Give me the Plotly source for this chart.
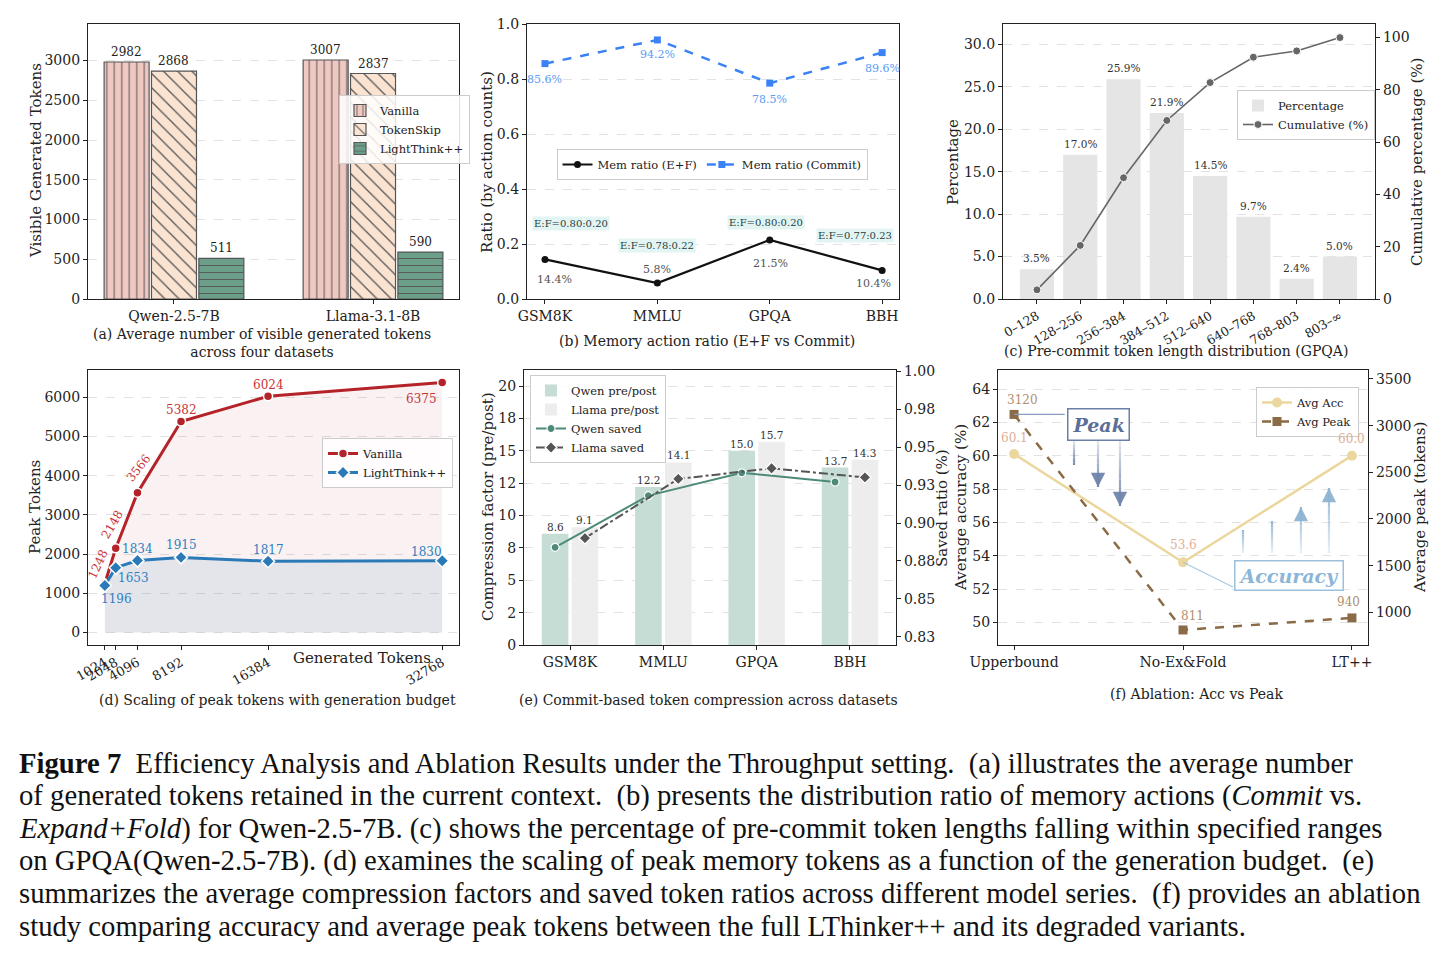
import numpy as np
import plotly.graph_objects as go

W, H = 1450, 960
SERIF = "DejaVu Serif"
CAPF = "Liberation Serif"

# ---------------- data ----------------
a_models = ["Qwen-2.5-7B", "Llama-3.1-8B"]
a_vanilla = [2982, 3007]
a_tokenskip = [2868, 2837]
a_lightthink = [511, 590]

b_datasets = ["GSM8K", "MMLU", "GPQA", "BBH"]
b_ef = [0.144, 0.058, 0.215, 0.104]
b_commit = [0.856, 0.942, 0.785, 0.896]
b_ef_split = ["E:F=0.80:0.20", "E:F=0.78:0.22", "E:F=0.80:0.20", "E:F=0.77:0.23"]

c_bins = ["0–128", "128–256", "256–384", "384–512", "512–640", "640–768", "768–803", "803–∞"]
c_pct = [3.5, 17.0, 25.9, 21.9, 14.5, 9.7, 2.4, 5.0]
c_cum = [3.5, 20.5, 46.4, 68.3, 82.8, 92.5, 94.9, 100.0]

d_budget = [1024, 2048, 4096, 8192, 16384, 32768]
d_vanilla = [1248, 2148, 3566, 5382, 6024, 6375]
d_lt = [1196, 1653, 1834, 1915, 1817, 1830]

e_datasets = ["GSM8K", "MMLU", "GPQA", "BBH"]
e_qwen_cf = [8.6, 12.2, 15.0, 13.7]
e_llama_cf = [9.1, 14.1, 15.7, 14.3]
e_qwen_saved = [0.884, 0.918, 0.933, 0.927]
e_llama_saved = [0.890, 0.929, 0.936, 0.930]
e_left_ticks = [0, 2.5, 5, 7.5, 10, 12.5, 15, 17.5, 20]
e_left_ticktext = ["0", "2", "5", "8", "10", "12", "15", "18", "20"]
e_right_ticks = [0.825, 0.85, 0.875, 0.9, 0.925, 0.95, 0.975, 1.0]
e_right_ticktext = ["0.83", "0.85", "0.88", "0.90", "0.93", "0.95", "0.98", "1.00"]

f_variants = ["Upperbound", "No-Ex&Fold", "LT++"]
f_acc = [60.1, 53.6, 60.0]
f_peak = [3120, 811, 940]

caption_lines = [
    "<b>Figure 7</b>  Efficiency Analysis and Ablation Results under the Throughput setting.  (a) illustrates the average number",
    "of generated tokens retained in the current context.  (b) presents the distribution ratio of memory actions (<i>Commit</i> vs.",
    "<i>Expand+Fold</i>) for Qwen-2.5-7B. (c) shows the percentage of pre-commit token lengths falling within specified ranges",
    "on GPQA(Qwen-2.5-7B). (d) examines the scaling of peak memory tokens as a function of the generation budget.  (e)",
    "summarizes the average compression factors and saved token ratios across different model series.  (f) provides an ablation",
    "study comparing accuracy and average peak tokens between the full LThinker++ and its degraded variants.",
]

# ---------------- helpers ----------------
def px(p):
    return p / W


def py(p):
    return 1 - p / H


ann = []
shapes = []


def label(text, x, y, xref, yref, dx=0, dy=0, size=11, color="#222", angle=0, family=SERIF, **kw):
    d = dict(text=text, x=x, y=y, xref=xref, yref=yref, xshift=dx, yshift=dy,
             showarrow=False, textangle=angle, xanchor="center", yanchor="middle",
             font=dict(family=family, size=size, color=color))
    d.update(kw)
    ann.append(d)


def paper_text(text, x, y, size=14, angle=0, color="#222", family=SERIF, **kw):
    d = dict(text=text, x=px(x), y=py(y), xref="paper", yref="paper", showarrow=False,
             textangle=angle, xanchor="center", yanchor="middle",
             font=dict(family=family, size=size, color=color))
    d.update(kw)
    ann.append(d)


GRID = dict(showgrid=True, gridcolor="#e2e2e2", griddash="dash", gridwidth=0.8)


def axstyle(**kw):
    d = dict(showline=True, linecolor="#222", linewidth=1.2, mirror=True, ticks="outside",
             ticklen=4, tickwidth=1, tickcolor="#222",
             tickfont=dict(family=SERIF, size=14, color="#222"),
             showgrid=False, zeroline=False)
    d.update(kw)
    return d


fig = go.Figure()

# ================= (a) =================
xa = np.arange(len(a_models))
bw = 0.238
series_a = [
    ("Vanilla", a_vanilla, "#efc8c2", "|", 7.5),
    ("TokenSkip", a_tokenskip, "#fbe3d1", "\\", 10),
    ("LightThink++", a_lightthink, "#6c9f8a", "-", 7),
]
for k, (name, vals, col, shp, sz) in enumerate(series_a):
    xs = xa + (k - 1) * bw
    fig.add_trace(go.Bar(
        x=xs, y=vals, width=bw * 0.95, name=name, xaxis="x", yaxis="y", legend="legend",
        marker=dict(color=col, line=dict(color="#555", width=1.2),
                    pattern=dict(shape=shp, fgcolor="#555", bgcolor=col, size=sz,
                                 solidity=0.13, fillmode="replace"))))
    for xv, v in zip(xs, vals):
        label(str(v), xv, v, "x", "y", dy=10, size=12)

# ================= (b) =================
xb = np.arange(len(b_datasets))
fig.add_trace(go.Scatter(x=xb, y=b_ef, mode="lines+markers", name="Mem ratio (E+F)",
                         line=dict(color="#111", width=2.2), marker=dict(symbol="circle", size=7, color="#111"),
                         xaxis="x2", yaxis="y2", legend="legend2"))
fig.add_trace(go.Scatter(x=xb, y=b_commit, mode="lines+markers", name="Mem ratio (Commit)",
                         line=dict(color="#3b82f6", width=2.5, dash="dash"),
                         marker=dict(symbol="square", size=7, color="#3b82f6"),
                         xaxis="x2", yaxis="y2", legend="legend2"))
ef_off = [(10, -20), (0, 14), (1, -24), (-9, -13)]
cm_off = [(0, -16), (0, -15), (0, -16), (0, -16)]
split_off = [(26, 36), (0, 38), (-4, 17), (-27, 35)]
for i in range(len(xb)):
    label(f"{b_ef[i]*100:.1f}%", xb[i], b_ef[i], "x2", "y2", dx=ef_off[i][0], dy=ef_off[i][1],
          size=11, color="#555")
    label(f"{b_commit[i]*100:.1f}%", xb[i], b_commit[i], "x2", "y2", dx=cm_off[i][0], dy=cm_off[i][1],
          size=11, color="#5a9cf5")
    label(b_ef_split[i], xb[i], b_ef[i], "x2", "y2", dx=split_off[i][0], dy=split_off[i][1],
          size=10, color="#1e3d3d", bgcolor="#e3f5f3", borderpad=1)

# ================= (c) =================
xc = np.arange(len(c_bins))
fig.add_trace(go.Bar(x=xc, y=c_pct, width=0.79, name="Percentage", marker=dict(color="#e5e5e5", line=dict(width=0)),
                     xaxis="x3", yaxis="y3", legend="legend3"))
fig.add_trace(go.Scatter(x=xc, y=c_cum, mode="lines+markers", name="Cumulative (%)",
                         line=dict(color="#666", width=1.6),
                         marker=dict(symbol="circle", size=8, color="#666", line=dict(color="white", width=1)),
                         xaxis="x3", yaxis="y4", legend="legend3"))
for xv, v in zip(xc, c_pct):
    label(f"{v:.1f}%", xv, v, "x3", "y3", dy=11, size=10.5, color="#333")

# ================= (d) =================
fig.add_trace(go.Scatter(x=d_budget, y=d_vanilla, mode="none", fill="tozeroy",
                         fillcolor="rgba(178,34,34,0.06)", showlegend=False, hoverinfo="skip",
                         xaxis="x4", yaxis="y5"))
fig.add_trace(go.Scatter(x=d_budget, y=d_lt, mode="none", fill="tozeroy",
                         fillcolor="rgba(31,119,180,0.10)", showlegend=False, hoverinfo="skip",
                         xaxis="x4", yaxis="y5"))
fig.add_trace(go.Scatter(x=d_budget, y=d_vanilla, mode="lines+markers", name="Vanilla",
                         line=dict(color="#b5232a", width=3),
                         marker=dict(symbol="circle", size=9, color="#b5232a", line=dict(color="white", width=1.5)),
                         xaxis="x4", yaxis="y5", legend="legend4"))
fig.add_trace(go.Scatter(x=d_budget, y=d_lt, mode="lines+markers", name="LightThink++",
                         line=dict(color="#2a7ab8", width=3),
                         marker=dict(symbol="diamond", size=10, color="#2a7ab8", line=dict(color="white", width=1.5)),
                         xaxis="x4", yaxis="y5", legend="legend4"))
van_off = [(-7, 20, -65), (-3, 24, -60), (1, 25, -52), (0, 11, 0), (0, 11, 0), (-21, -16, 0)]
lt_off = [(12, -13), (18, -10), (0, 12), (0, 12), (0, 11), (-16, 9)]
for i in range(len(d_budget)):
    label(str(d_vanilla[i]), d_budget[i], d_vanilla[i], "x4", "y5", dx=van_off[i][0], dy=van_off[i][1],
          angle=van_off[i][2], size=12, color="#c8343a")
    label(str(d_lt[i]), d_budget[i], d_lt[i], "x4", "y5", dx=lt_off[i][0], dy=lt_off[i][1],
          size=12, color="#2f7fc0")

# ================= (e) =================
xe = np.arange(len(e_datasets))
eo = 0.16
fig.add_trace(go.Bar(x=xe - eo, y=e_qwen_cf, width=0.285, name="Qwen pre/post",
                     marker=dict(color="#c6ddd5", line=dict(width=0)), xaxis="x5", yaxis="y6", legend="legend5"))
fig.add_trace(go.Bar(x=xe + eo, y=e_llama_cf, width=0.285, name="Llama pre/post",
                     marker=dict(color="#ededed", line=dict(width=0)), xaxis="x5", yaxis="y6", legend="legend5"))
fig.add_trace(go.Scatter(x=xe - eo, y=e_qwen_saved, mode="lines+markers", name="Qwen saved",
                         line=dict(color="#4d8a7a", width=2),
                         marker=dict(symbol="circle", size=8, color="#4d8a7a", line=dict(color="white", width=1.2)),
                         xaxis="x5", yaxis="y7", legend="legend5"))
fig.add_trace(go.Scatter(x=xe + eo, y=e_llama_saved, mode="lines+markers", name="Llama saved",
                         line=dict(color="#555", width=2, dash="dashdot"),
                         marker=dict(symbol="diamond", size=9, color="#555", line=dict(color="white", width=1.2)),
                         xaxis="x5", yaxis="y7", legend="legend5"))
for i in range(len(xe)):
    label(f"{e_qwen_cf[i]:.1f}", xe[i] - eo, e_qwen_cf[i], "x5", "y6", dy=7, size=10.5, color="#333")
    label(f"{e_llama_cf[i]:.1f}", xe[i] + eo, e_llama_cf[i], "x5", "y6", dy=7, size=10.5, color="#333")

# ================= (f) =================
xf = np.arange(len(f_variants))
fig.add_trace(go.Scatter(x=xf, y=f_acc, mode="lines+markers", name="Avg Acc",
                         line=dict(color="#ebd79e", width=2.5),
                         marker=dict(symbol="circle", size=10, color="#ebd79e"),
                         xaxis="x6", yaxis="y8", legend="legend6"))
fig.add_trace(go.Scatter(x=xf, y=f_peak, mode="lines+markers", name="Avg Peak",
                         line=dict(color="#8b6a46", width=2.5, dash="dash"),
                         marker=dict(symbol="square", size=9, color="#8b6a46"),
                         xaxis="x6", yaxis="y9", legend="legend6"))
acc_off = [(0, 16), (0, 17), (0, 17)]
peak_off = [(8, 14), (9, 14), (-3, 16)]
for i in range(len(xf)):
    label(f"{f_acc[i]:.1f}", xf[i], f_acc[i], "x6", "y8", dx=acc_off[i][0], dy=acc_off[i][1],
          size=12, color="#e0ae94")
    label(str(f_peak[i]), xf[i], f_peak[i], "x6", "y9", dx=peak_off[i][0], dy=peak_off[i][1],
          size=12, color="#b08f6e")

# Peak / Accuracy call-outs
shapes.append(dict(type="line", xref="x6", yref="y9", x0=0, y0=f_peak[0], x1=0.30, y1=f_peak[0],
                   line=dict(color="#8a9cc0", width=1.2)))
shapes.append(dict(type="line", xref="x6", yref="y8", x0=1, y0=f_acc[1], x1=1.296, y1=52.12,
                   line=dict(color="#a9c8df", width=1.2)))
ann.append(dict(text="<b><i>Peak</i></b>", x=0.497, y=61.87, xref="x6", yref="y8", showarrow=False,
                xanchor="center", yanchor="middle",
                font=dict(family=SERIF, size=19, color="#5a6e98"), bgcolor="white",
                bordercolor="#6b7fa8", borderwidth=1.5, borderpad=4))
ann.append(dict(text="<b><i>Accuracy</i></b>", x=1.627, y=52.84, xref="x6", yref="y8", showarrow=False,
                xanchor="center", yanchor="middle",
                font=dict(family=SERIF, size=19, color="#8cb6d8"), bgcolor="white",
                bordercolor="#9cc0dc", borderwidth=1.5, borderpad=3))


def grad_arrow(x, y0, y1, rgb):
    n = 10
    for j in range(n):
        ya = y0 + (y1 - y0) * j / n
        yb = y0 + (y1 - y0) * (j + 1) / n
        shapes.append(dict(type="line", xref="x6", yref="y8", x0=x, x1=x, y0=ya, y1=yb,
                           line=dict(color=f"rgba({rgb},{0.15 + 0.8 * (j + 1) / n:.2f})", width=2.2)))
    back = (y1 - y0) * 0.12
    ann.append(dict(text="", x=x, y=y1, ax=x, ay=y1 - back, xref="x6", yref="y8", axref="x6", ayref="y8",
                    showarrow=True, arrowhead=2, arrowsize=1.3, arrowwidth=2.2,
                    arrowcolor=f"rgba({rgb},0.95)", standoff=0))


for xv, yt in zip([0.355, 0.497, 0.627], [59.44, 58.12, 56.98]):
    grad_arrow(xv, 60.94, yt, "112,132,172")
for xv, yt in zip([1.355, 1.527, 1.698, 1.864], [55.54, 56.08, 56.92, 58.06]):
    grad_arrow(xv, 54.16, yt, "143,180,210")

# ---------------- axis titles & captions ----------------
paper_text("Visible Generated Tokens", 36, 161, size=15, angle=-90)
paper_text("Ratio (by action counts)", 487, 162, size=15, angle=-90)
paper_text("Percentage", 953, 162, size=15, angle=-90)
paper_text("Cumulative percentage (%)", 1417, 162, size=15, angle=-90)
paper_text("Peak Tokens", 35, 507, size=15, angle=-90)
paper_text("Compression factor (pre/post)", 488, 507, size=15, angle=-90)
paper_text("Saved ratio (%)", 942, 508, size=15, angle=-90)
paper_text("Average accuracy (%)", 961, 508, size=15, angle=-90)
paper_text("Average peak (tokens)", 1420, 508, size=15, angle=-90)
paper_text("Generated Tokens", 362, 658, size=15)

paper_text("(a) Average number of visible generated tokens<br>across four datasets", 262, 343)
paper_text("(b) Memory action ratio (E+F vs Commit)", 707, 341)
paper_text("(c) Pre-commit token length distribution (GPQA)", 1176, 351)
paper_text("(d) Scaling of peak tokens with generation budget", 277, 700)
paper_text("(e) Commit-based token compression across datasets", 708, 700)
paper_text("(f) Ablation: Acc vs Peak", 1196, 694)

for i, line in enumerate(caption_lines):
    paper_text(line, 17, 763 + 32.6 * i, size=28.7, color="#111", family=CAPF, xanchor="left")

# ---------------- layout ----------------
def leg(x, y, **kw):
    d = dict(x=px(x), y=py(y), xanchor="left", yanchor="top", bgcolor="rgba(255,255,255,0.85)",
             bordercolor="#cccccc", borderwidth=1, font=dict(family=SERIF, size=11.5, color="#222"),
             tracegroupgap=0, itemwidth=30)
    d.update(kw)
    return d


dom_top = [py(299), py(24)]
dom_bot = [py(645), py(370)]

fig.update_layout(
    width=W, height=H, margin=dict(l=0, r=0, t=0, b=0),
    paper_bgcolor="white", plot_bgcolor="white", template="none",
    barmode="overlay", showlegend=True,
    font=dict(family=SERIF, color="#222"),
    xaxis=axstyle(domain=[px(88), px(459)], anchor="y", range=[-0.432, 1.432],
                  tickvals=list(xa), ticktext=a_models),
    yaxis=axstyle(domain=dom_top, anchor="x", range=[0, 3460],
                  tickvals=[0, 500, 1000, 1500, 2000, 2500, 3000], **GRID),
    xaxis2=axstyle(domain=[px(527), px(899)], anchor="y2", range=[-0.16, 3.15],
                   tickvals=list(xb), ticktext=b_datasets),
    yaxis2=axstyle(domain=dom_top, anchor="x2", range=[0, 1.0],
                   tickvals=[0, 0.2, 0.4, 0.6, 0.8, 1.0], tickformat=".1f", **GRID),
    xaxis3=axstyle(domain=[px(1003), px(1375)], anchor="y3", range=[-0.785, 7.81],
                   tickvals=list(xc), ticktext=c_bins, tickangle=-30,
                   tickfont=dict(family=SERIF, size=12.5, color="#222")),
    yaxis3=axstyle(domain=dom_top, anchor="x3", range=[0, 32.4],
                   tickvals=[0, 5, 10, 15, 20, 25, 30], tickformat=".1f", **GRID),
    yaxis4=axstyle(overlaying="y3", side="right", anchor="x3", range=[0, 105.2], mirror=False,
                   tickvals=[0, 20, 40, 60, 80, 100]),
    xaxis4=axstyle(domain=[px(88), px(459)], anchor="y5", range=[-560, 34350],
                   tickvals=d_budget, ticktext=[str(v) for v in d_budget], tickangle=-30,
                   tickfont=dict(family=SERIF, size=13, color="#222")),
    yaxis5=axstyle(domain=dom_bot, anchor="x4", range=[-319, 6694],
                   tickvals=[0, 1000, 2000, 3000, 4000, 5000, 6000], **GRID),
    xaxis5=axstyle(domain=[px(524), px(896)], anchor="y6", range=[-0.493, 3.493],
                   tickvals=list(xe), ticktext=e_datasets),
    yaxis6=axstyle(domain=dom_bot, anchor="x5", range=[0, 21.24],
                   tickvals=e_left_ticks, ticktext=e_left_ticktext, **GRID),
    yaxis7=axstyle(overlaying="y6", side="right", anchor="x5", range=[0.8197, 1.0007], mirror=False,
                   tickvals=e_right_ticks, ticktext=e_right_ticktext),
    xaxis6=axstyle(domain=[px(998), px(1368)], anchor="y8", range=[-0.095, 2.095],
                   tickvals=list(xf), ticktext=f_variants),
    yaxis8=axstyle(domain=dom_bot, anchor="x6", range=[48.64, 65.14],
                   tickvals=[50, 52, 54, 56, 58, 60, 62, 64], **GRID),
    yaxis9=axstyle(overlaying="y8", side="right", anchor="x6", range=[650, 3596], mirror=False,
                   tickvals=[1000, 1500, 2000, 2500, 3000, 3500]),
    legend=leg(339, 95),
    legend2=leg(712, 149, xanchor="center", orientation="h"),
    legend3=leg(1237, 90),
    legend4=leg(322, 438),
    legend5=leg(530, 375),
    legend6=leg(1256, 387),
    annotations=ann,
    shapes=shapes,
)

fig.write_html("out.html")
